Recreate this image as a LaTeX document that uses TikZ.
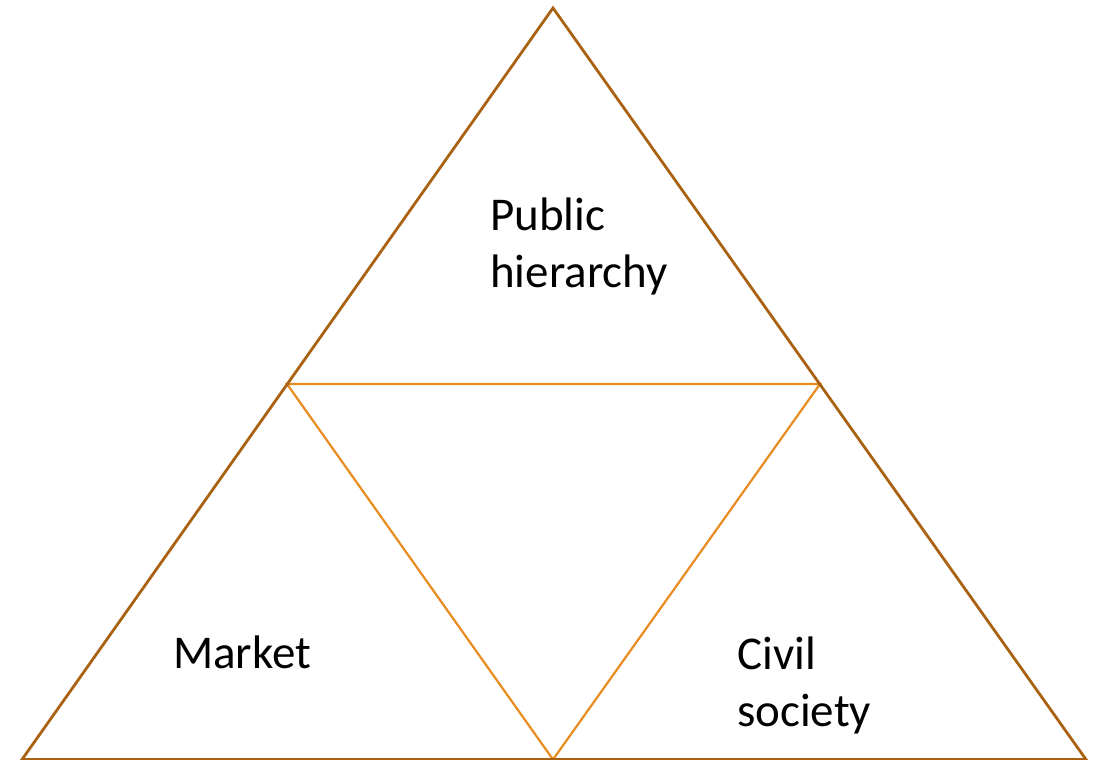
\documentclass[tikz,border=0pt]{standalone}
\usepackage{fontspec}
\setmainfont{Carlito}
\definecolor{outerbrown}{RGB}{168,98,18}
\definecolor{innerorange}{RGB}{232,140,32}
\begin{document}
\begin{tikzpicture}
[
  x=1pt,
  y=-1pt,
	outer/.style={draw=outerbrown,line width=2.8pt,line join=miter},
	inner/.style={draw=innerorange,line width=2.2pt},
	lbl/.style={anchor=base west,align=left,inner sep=0pt,
	  font=\fontsize{47}{57}\selectfont}
]

\useasboundingbox (0,0) rectangle (1101,760);

\coordinate (top) at (553,8);
\coordinate (left) at (22,759.5);
\coordinate (right) at (1086,759.5);

\coordinate (midl) at (287,384);
\coordinate (midr) at (820,384);
\coordinate (midb) at (553,759.5);


\draw[inner] (midl) -- (midr) -- (midb) -- cycle;
\draw[outer] (top) -- (right) -- (left) -- cycle;


\node[lbl] (public) at (490,287) {Public\\hierarchy};
\node[lbl] (market) at (173,668) {Market};
\node[lbl] (civil) at (737,726) {Civil\\society};

\end{tikzpicture}
\end{document}
